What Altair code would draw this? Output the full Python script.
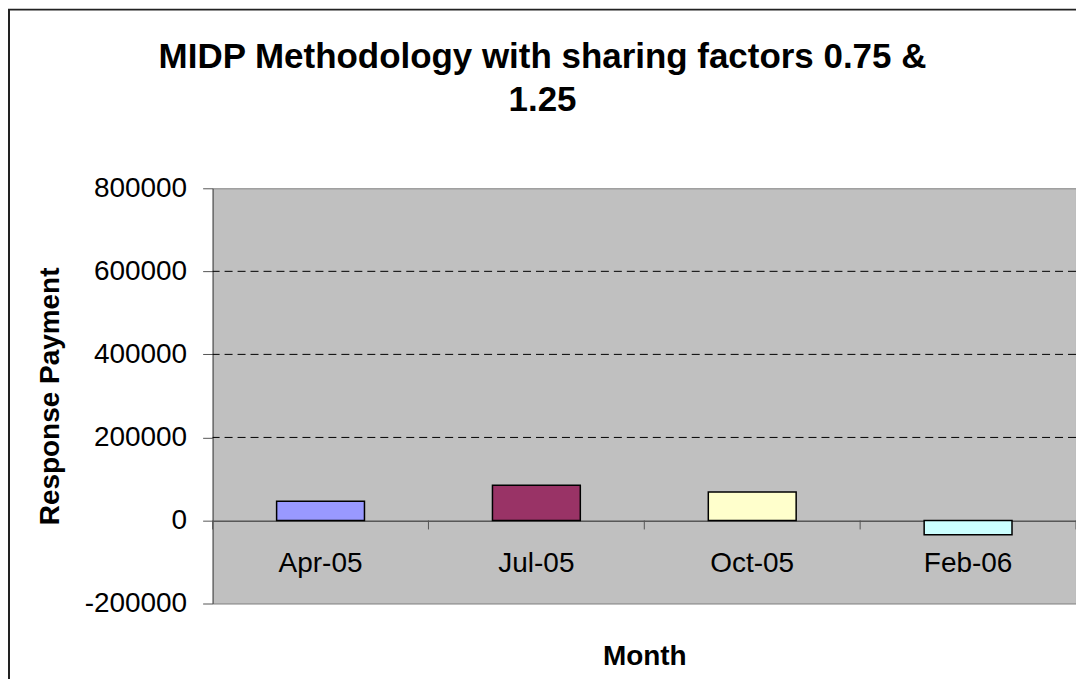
import altair as alt
import pandas as pd

months = ["Apr-05", "Jul-05", "Oct-05", "Feb-06"]
payments = [46500, 85000, 68500, -34500]
bar_colors = ["#9999FF", "#993366", "#FFFFCC", "#CCFFFF"]
y_ticks = [-200000, 0, 200000, 400000, 600000, 800000]
grid_values = [200000, 400000, 600000]
title_lines = ["MIDP Methodology with sharing factors 0.75 &", "1.25"]

FONT = "Liberation Sans, Arial, Helvetica, sans-serif"
W, H = 865, 416

df = pd.DataFrame({"Month": months, "Payment": payments})
grid_df = pd.DataFrame({"Payment": grid_values})
last_df = pd.DataFrame({"Month": months[-1:]})

y_scale = alt.Scale(domain=[-200000, 800000], nice=False)
x_scale = alt.Scale(domain=months, paddingInner=0, paddingOuter=0)

x_axis = alt.Axis(
    title="Month", offset=-83, ticks=False, tickSize=0,
    domain=True, domainColor="#222222", domainWidth=1,
    labelAngle=0, labelFont=FONT, labelFontSize=28, labelColor="#000000",
    labelPadding=29,
    titleFont=FONT, titleFontSize=28, titleFontWeight="bold", titleColor="#000000",
    titleY=144, titleBaseline="alphabetic",
)
y_axis = alt.Axis(
    title="Response Payment", values=y_ticks, labelExpr="'' + datum.value",
    grid=False, tickSize=10, tickColor="#555555", domainColor="#555555",
    labelPadding=16, labelFont=FONT, labelFontSize=28, labelColor="#000000",
    titleFont=FONT, titleFontSize=28, titleFontWeight="bold", titleColor="#000000",
    titleX=-162, titleY=H / 2, titleBaseline="middle", titleAngle=270,
)

frame = alt.Chart(pd.DataFrame({"k": [0]})).mark_rect(
    filled=False, stroke="#222222", strokeWidth=2
).encode(
    x=alt.value(-204), x2=alt.value(W + 100),
    y=alt.value(-179), y2=alt.value(H + 200),
)

grid = alt.Chart(grid_df).mark_rule(
    color="#000000", strokeWidth=1, strokeDash=[8, 5]
).encode(y=alt.Y("Payment:Q", scale=y_scale, axis=y_axis))

bars = alt.Chart(df).mark_bar(
    width=alt.RelativeBandSize(0.407), stroke="#000000", strokeWidth=1.5
).encode(
    x=alt.X("Month:N", sort=months, scale=x_scale, axis=x_axis),
    y=alt.Y("Payment:Q", scale=y_scale, axis=y_axis),
    color=alt.Color("Month:N", scale=alt.Scale(domain=months, range=bar_colors), legend=None),
)

ticks = alt.Chart(df).mark_rule(color="#555555", strokeWidth=1, y2Offset=9).encode(
    x=alt.X("Month:N", sort=months, scale=x_scale, bandPosition=0),
    y=alt.datum(0), y2=alt.datum(0),
)
end_tick = alt.Chart(last_df).mark_rule(color="#555555", strokeWidth=1, y2Offset=9).encode(
    x=alt.X("Month:N", sort=months, scale=x_scale, bandPosition=1),
    y=alt.datum(0), y2=alt.datum(0),
)

chart = alt.layer(frame, grid, bars, ticks, end_tick).properties(
    width=W, height=H,
    title=alt.Title(
        title_lines, font=FONT, fontSize=35, fontWeight="bold", color="#000000",
        anchor="middle", frame="group", dx=-102, dy=138, offset=0,
        baseline="alphabetic", lineHeight=44,
    ),
    padding={"left": 205, "top": 180, "right": 0, "bottom": 75},
    autosize=alt.AutoSizeParams(type="none"),
).configure(
    background="#FFFFFF",
    view=alt.ViewConfig(fill="#C0C0C0", stroke="#808080", strokeWidth=1),
)

chart.save("out.html", embed_options={"renderer": "svg", "actions": False})
